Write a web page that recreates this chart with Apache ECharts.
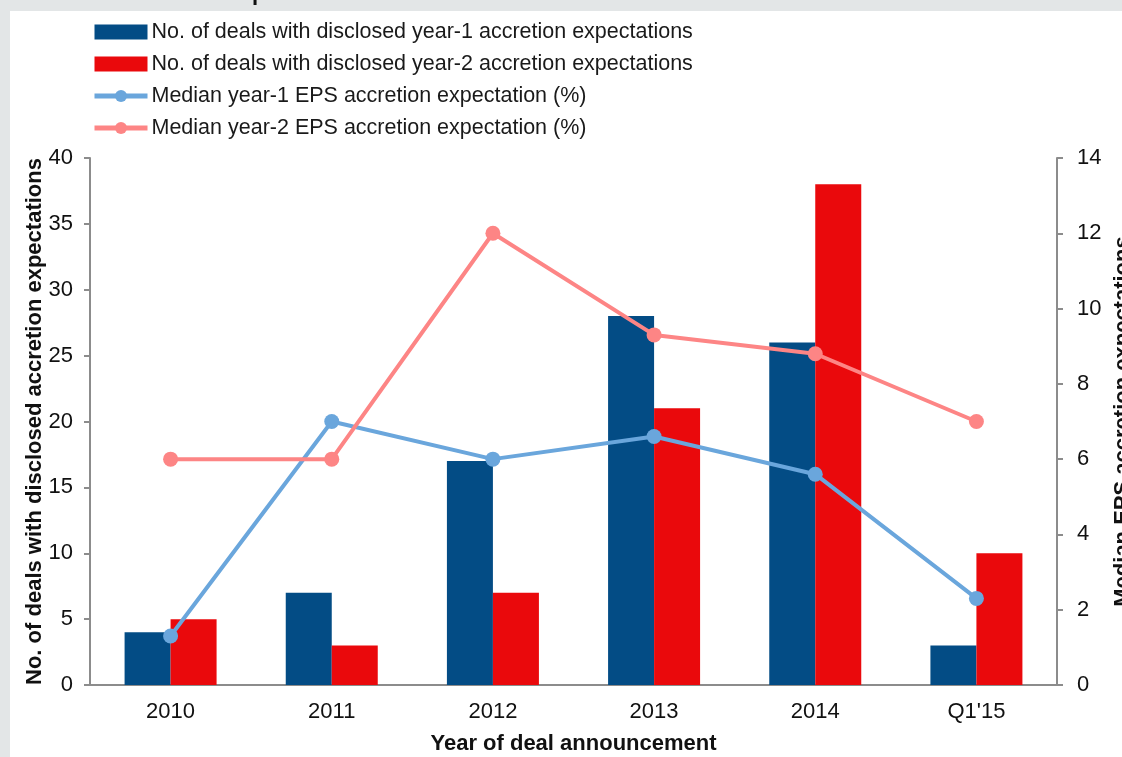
<!DOCTYPE html>
<html>
<head>
<meta charset="utf-8">
<script src="https://cdn.jsdelivr.net/npm/echarts@6/dist/echarts.min.js"></script>
<style>
  html, body { margin: 0; padding: 0; background: #e3e6e7; }
  #panel { position: absolute; left: 10px; top: 11px; width: 1112px; height: 746px; background: #fff; }
  #myChart { position: absolute; left: 0; top: 0; width: 1122px; height: 757px; }
</style>
</head>
<body>
<div id="panel"></div>
<div id="myChart"></div>
<script>
// categories
const years = ['2010', '2011', '2012', '2013', '2014', "Q1'15"]
// deal counts (left axis)
const dealsYear1 = [4, 7, 17, 28, 26, 3]
const dealsYear2 = [5, 3, 7, 21, 38, 10]
// median EPS accretion (%) (right axis)
const medianYear1 = [1.3, 7, 6, 6.6, 5.6, 2.3]
const medianYear2 = [6, 6, 12, 9.3, 8.8, 7]

const font = 'Liberation Sans, Arial, sans-serif'
const axisGray = '#8c8c8c'
const blueLine = '#6aa6dc'
const redLine = '#fd8585'

let myChart = echarts.init(document.getElementById('myChart'))
myChart.setOption({
  animation: false,
  textStyle: { fontFamily: font },
  graphic: [{
    type: 'text', left: 252, top: -17,
    style: { text: 'p', font: 'bold 22px ' + font, fill: '#111' }
  }],
  legend: {
    orient: 'vertical',
    left: 87,
    top: 16,
    itemWidth: 53,
    itemHeight: 15,
    itemGap: 10,
    textStyle: { fontSize: 21.5, color: '#1a1a1a', lineHeight: 22, padding: [0, 0, 0, -1] },
    data: [
      { name: 'No. of deals with disclosed year-1 accretion expectations', icon: 'rect' },
      { name: 'No. of deals with disclosed year-2 accretion expectations', icon: 'rect' },
      { name: 'Median year-1 EPS accretion expectation (%)', lineStyle: { width: 5, color: blueLine } },
      { name: 'Median year-2 EPS accretion expectation (%)', lineStyle: { width: 5, color: redLine } }
    ]
  },
  grid: { left: 90, right: 65, top: 158, bottom: 72, outerBoundsMode: 'none', containLabel: false },
  xAxis: {
    type: 'category',
    data: years,
    name: 'Year of deal announcement',
    nameLocation: 'middle',
    nameGap: 48,
    nameTextStyle: { fontSize: 22, fontWeight: 'bold', color: '#111' },
    axisLine: { lineStyle: { color: axisGray, width: 2 } },
    axisTick: { length: 7, lineStyle: { color: axisGray, width: 2 } },
    axisLabel: { fontSize: 22, color: '#111', margin: 16 }
  },
  yAxis: [
    {
      type: 'value', min: 0, max: 40, interval: 5,
      name: 'No. of deals with disclosed accretion expectations',
      nameLocation: 'middle',
      nameGap: 44,
      nameRotate: 90,
      nameMoveOverlap: false,
      nameTextStyle: { fontSize: 22, fontWeight: 'bold', color: '#111' },
      axisLine: { show: true, lineStyle: { color: axisGray, width: 2 } },
      axisTick: { show: true, length: 6, lineStyle: { color: axisGray, width: 2 } },
      axisLabel: { fontSize: 22, color: '#111', margin: 17 },
      splitLine: { show: false }
    },
    {
      type: 'value', min: 0, max: 14, interval: 2, position: 'right',
      name: 'Median EPS accretion expectations',
      nameLocation: 'middle',
      nameGap: 52,
      nameRotate: 90,
      nameTextStyle: { fontSize: 22, fontWeight: 'bold', color: '#111' },
      axisLine: { show: true, lineStyle: { color: axisGray, width: 2 } },
      axisTick: { show: true, length: 6, lineStyle: { color: axisGray, width: 2 } },
      axisLabel: { fontSize: 22, color: '#111', margin: 20 },
      splitLine: { show: false }
    }
  ],
  series: [
    {
      name: 'No. of deals with disclosed year-1 accretion expectations',
      type: 'bar', barWidth: 46, barGap: '0%',
      itemStyle: { color: '#034c85' },
      data: dealsYear1
    },
    {
      name: 'No. of deals with disclosed year-2 accretion expectations',
      type: 'bar', barWidth: 46,
      itemStyle: { color: '#ea090c' },
      data: dealsYear2
    },
    {
      name: 'Median year-1 EPS accretion expectation (%)',
      type: 'line', yAxisIndex: 1, z: 5,
      symbol: 'circle', symbolSize: 15,
      lineStyle: { color: blueLine, width: 4 },
      itemStyle: { color: blueLine },
      data: medianYear1
    },
    {
      name: 'Median year-2 EPS accretion expectation (%)',
      type: 'line', yAxisIndex: 1, z: 5,
      symbol: 'circle', symbolSize: 15,
      lineStyle: { color: redLine, width: 4 },
      itemStyle: { color: redLine },
      data: medianYear2
    }
  ]
})
</script>
</body>
</html>
